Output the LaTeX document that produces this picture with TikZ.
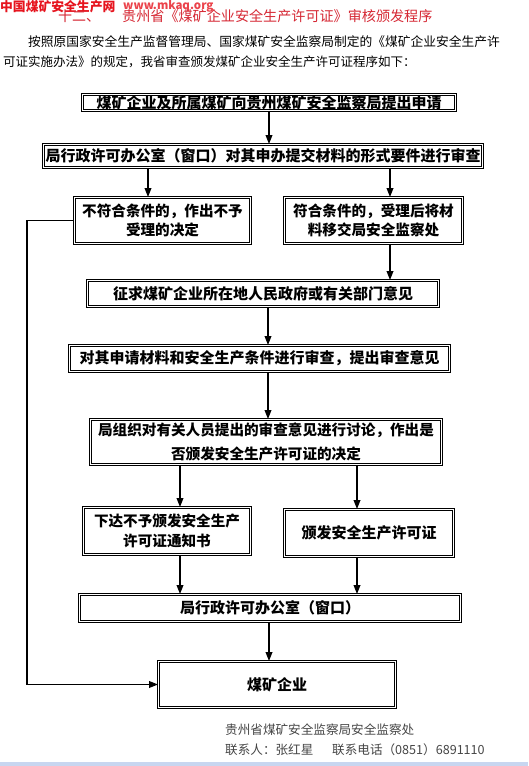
\documentclass[tikz,border=0pt]{standalone}
\usepackage{fontspec}
\setmainfont{Noto Sans CJK SC}
\usetikzlibrary{arrows.meta}
\definecolor{titlered}{RGB}{214,40,52}
\definecolor{wmred}{RGB}{230,20,30}
\definecolor{footgray}{RGB}{70,70,70}
\definecolor{barblue}{RGB}{200,214,240}
\tikzset{
  dbox/.style={draw=black, double=white, double distance=1.6pt, line width=0.7pt,
    inner sep=0pt, align=center, font=\fontsize{15}{20}\selectfont\bfseries},
  arr/.style={line width=1.8pt, -{Triangle[length=9pt,width=6.5pt]}},
  txt/.style={inner sep=0pt, anchor=west},
}
\begin{document}
\begin{tikzpicture}[x=1pt,y=-1pt]
\useasboundingbox (0,0) rectangle (528,766);
\fill[white] (0,0) rectangle (528,766);
\fill[barblue] (0,762) rectangle (528,766);
% header
\node[txt, text=wmred, font=\fontsize{12.8}{13}\selectfont\bfseries] (wm1) at (0,7) {中国煤矿安全生产网};
\node[txt, text=wmred!80, font=\fontsize{11.5}{12}\selectfont\bfseries] (wm2) at (123,6) {www.mkaq.org};
\node[txt, text=titlered, font=\fontsize{14}{14}\selectfont] (t1) at (58,16) {十二、};
\node[txt, text=titlered, font=\fontsize{14.1}{14}\selectfont] (t2) at (122,16) {贵州省《煤矿企业安全生产许可证》审核颁发程序};
\node[txt, font=\fontsize{12.75}{13}\selectfont] (p1) at (28,42) {按照原国家安全生产监督管理局、国家煤矿安全监察局制定的《煤矿企业安全生产许};
\node[txt, font=\fontsize{12.5}{13}\selectfont] (p2) at (3,62) {可证实施办法》的规定，我省审查颁发煤矿企业安全生产许可证程序如下：};
% boxes
\node[dbox, minimum width=373, minimum height=16] (b1) at (269,102.5) {煤矿企业及所属煤矿向贵州煤矿安全监察局提出申请};
\node[dbox, minimum width=439, minimum height=23] (b2) at (263,156) {局行政许可办公室（窗口）对其申办提交材料的形式要件进行审查};
\node[dbox, minimum width=176, minimum height=46, font=\fontsize{14.6}{19.5}\selectfont\bfseries] (b3) at (162.5,220.5) {不符合条件的，作出不予\\受理的决定};
\node[dbox, minimum width=178, minimum height=46, font=\fontsize{14.6}{19.5}\selectfont\bfseries] (b4) at (373.5,220.5) {符合条件的，受理后将材\\料移交局安全监察处};
\node[dbox, minimum width=351, minimum height=26] (b5) at (263,293.5) {征求煤矿企业所在地人民政府或有关部门意见};
\node[dbox, minimum width=380, minimum height=26] (b6) at (259.5,358.5) {对其申请材料和安全生产条件进行审查，提出审查意见};
\node[dbox, minimum width=351, minimum height=45, font=\fontsize{14.6}{24}\selectfont\bfseries] (b7) at (266,442) {局组织对有关人员提出的审查意见进行讨论，作出是\\否颁发安全生产许可证的决定};
\node[dbox, minimum width=167, minimum height=47, font=\fontsize{14.6}{20}\selectfont\bfseries] (b8) at (167,531) {下达不予颁发安全生产\\许可证通知书};
\node[dbox, minimum width=169, minimum height=47] (b9) at (369,533) {颁发安全生产许可证};
\node[dbox, minimum width=381, minimum height=27] (b10) at (270,608) {局行政许可办公室（窗口）};
\node[dbox, minimum width=237, minimum height=46] (b11) at (277,684.5) {煤矿企业};
% footer
\node[txt, text=footgray, font=\fontsize{12.6}{13}\selectfont] (f1) at (225,730) {贵州省煤矿安全监察局安全监察处};
\node[txt, text=footgray, font=\fontsize{12.6}{13}\selectfont] (f2) at (225,750) {联系人：张红星};
\node[txt, text=footgray, font=\fontsize{12.6}{13}\selectfont] (f3) at (332,750) {联系电话（0851）6891110};
% connector x positions
\coordinate (xa) at (148,0);
\coordinate (xb) at (390,0);
\coordinate (xc) at (268,0);
\coordinate (xd) at (180,0);
\coordinate (xe) at (357,0);
\coordinate (xl) at (27,0);
% connectors
\draw[arr] (b1.south) -- (b1.south |- b2.north);
\draw[arr] (b2.south -| xa) -- (b3.north -| xa);
\draw[arr] (b2.south -| xb) -- (b4.north -| xb);
\draw[arr] (b4.south -| xb) -- (b5.north -| xb);
\draw[arr] (b5.south -| xc) -- (b6.north -| xc);
\draw[arr] (b6.south -| xc) -- (b7.north -| xc);
\draw[arr] (b7.south -| xd) -- (b8.north -| xd);
\draw[arr] (b7.south -| xe) -- (b9.north -| xe);
\draw[arr] (b8.south -| xd) -- (b10.north -| xd);
\draw[arr] (b9.south -| xe) -- (b10.north -| xe);
\draw[arr] (b10.south -| b1.south) -- (b11.north -| b1.south);
\draw[arr] (b3.west) -- (b3.west -| xl) -- (xl |- b11.west) -- (b11.west);
\end{tikzpicture}
\end{document}
